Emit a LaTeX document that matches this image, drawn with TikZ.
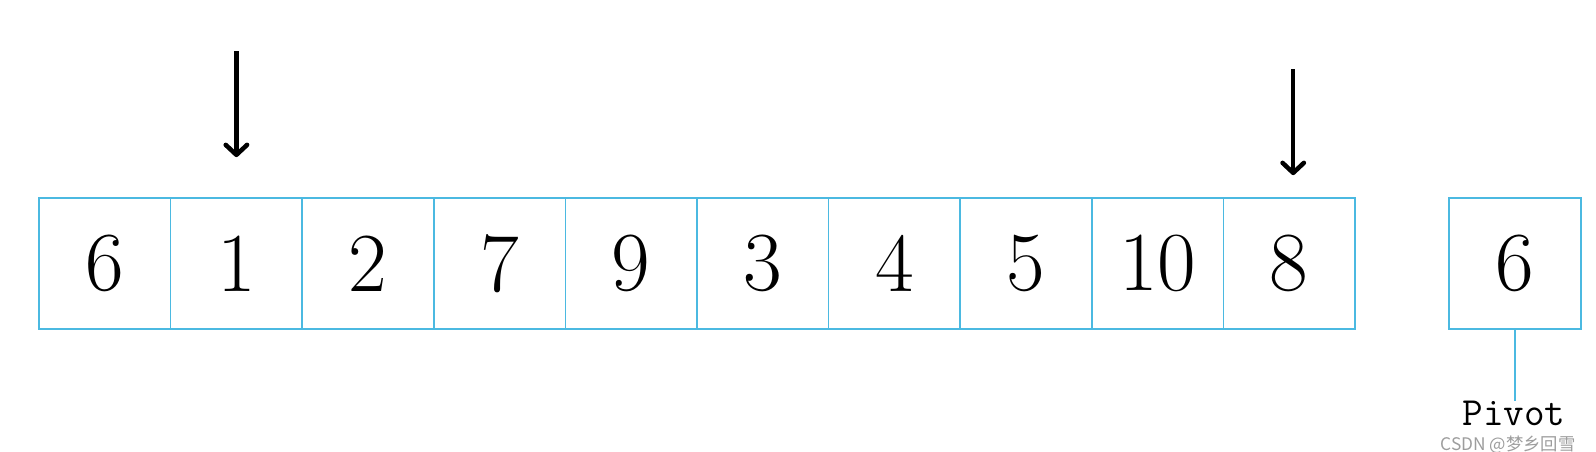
\documentclass[tikz,border=0pt]{standalone}
\usepackage{fontspec}
\newfontfamily\cjk{Noto Sans CJK SC}
\usetikzlibrary{arrows.meta,calc}
\definecolor{cellblue}{RGB}{75,185,225}
\begin{document}
\begin{tikzpicture}[x=0.75pt,y=-0.75pt,
  cell/.style={draw=cellblue,line width=1.3pt,minimum width=98.7pt,minimum height=98.25pt,inner sep=0pt,font=\fontsize{63}{63}\selectfont},
  ptr/.style={line width=3.4pt,-{Straight Barb[length=7.5pt,width=16pt,round]}},
  link/.style={draw=cellblue,line width=1.2pt},
  plabel/.style={inner sep=0pt,anchor=base,font=\ttfamily\fontsize{30}{30}\selectfont},
  wmark/.style={inner sep=0pt,text=gray!90,opacity=0.85,font=\cjk\fontsize{13}{13}\selectfont}]
\useasboundingbox (0,0) rectangle (1596,452);
\foreach \v [count=\i] in {6,1,2,7,9,3,4,5,10,8}{
  \node[cell] (c\i) at ({39+131.6*(\i-0.5)},263.5) {\v};
}
\node[cell,minimum width=99pt] (p) at (1515,263.5) {6};
\coordinate (p1s) at ($(c2.north)+(0,-146)$);
\coordinate (p1e) at ($(c2.north)+(0,-40)$);
\coordinate (p2s) at ($(c10.north)+(4,-128)$);
\coordinate (p2e) at ($(c10.north)+(4,-22)$);
\draw[ptr] (p1s) -- (p1e);
\draw[ptr] (p2s) -- (p2e);
\coordinate (pl) at (1515,401);
\draw[link] (p.south) -- (pl);
\node[plabel] (ptext) at (1514,425) {Pivot};
\node[wmark] (wm) at (1508,445) {CSDN @梦乡回雪};
\end{tikzpicture}
\end{document}
